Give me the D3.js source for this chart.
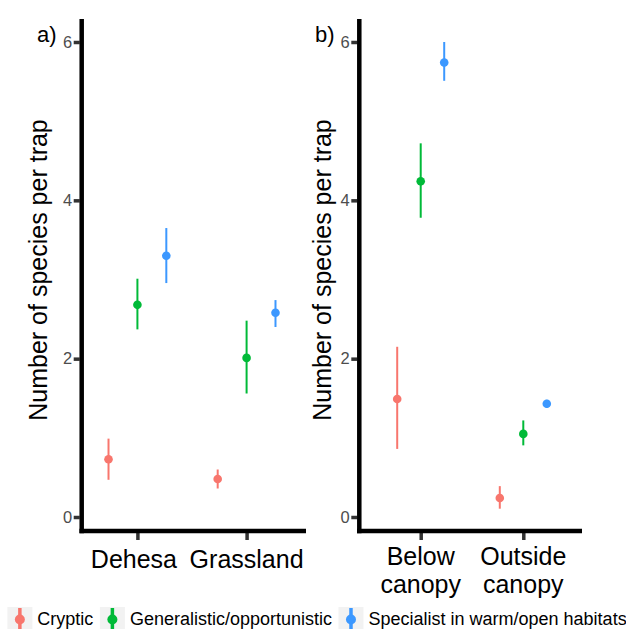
<!DOCTYPE html>
<html><head><meta charset="utf-8">
<script src="https://cdn.jsdelivr.net/npm/d3@7"></script>
<style>
html,body{margin:0;padding:0;background:#fff;}
svg{display:block;font-family:"Liberation Sans",Arial,sans-serif;}
</style></head>
<body><svg id="c" width="626" height="629"></svg>
<script>
// ---- data ----
const groups = ["Cryptic", "Generalistic/opportunistic", "Specialist in warm/open habitats"];
const colors = ["#F8766D", "#00BA38", "#3C98FF"];
const yTicks = [0, 2, 4, 6];

const categoriesA = ["Dehesa", "Grassland"];
const tickLabelsA = [["Dehesa "], ["Grassland"]];
const crypticA_mean = [0.73, 0.48], crypticA_low = [0.47, 0.36], crypticA_high = [0.99, 0.60];
const generalistA_mean = [2.68, 2.01], generalistA_low = [2.37, 1.56], generalistA_high = [3.01, 2.48];
const specialistA_mean = [3.30, 2.58], specialistA_low = [2.955, 2.40], specialistA_high = [3.65, 2.74];

const categoriesB = ["Below canopy", "Outside canopy"];
const tickLabelsB = [["Below", "canopy"], ["Outside", "canopy"]];
const crypticB_mean = [1.49, 0.24], crypticB_low = [0.86, 0.105], crypticB_high = [2.15, 0.39];
const generalistB_mean = [4.24, 1.05], generalistB_low = [3.78, 0.905], generalistB_high = [4.72, 1.22];
const specialistB_mean = [5.74, 1.43], specialistB_low = [5.51, 1.38], specialistB_high = [6.00, 1.48];

function buildRows(cats, means, lows, highs) {
  const rows = [];
  cats.forEach((c, i) => groups.forEach((g, j) => rows.push({cat: c, group: g, gi: j, mean: means[j][i], low: lows[j][i], high: highs[j][i]})));
  return rows;
}
const rowsA = buildRows(categoriesA, [crypticA_mean, generalistA_mean, specialistA_mean], [crypticA_low, generalistA_low, specialistA_low], [crypticA_high, generalistA_high, specialistA_high]);
const rowsB = buildRows(categoriesB, [crypticB_mean, generalistB_mean, specialistB_mean], [crypticB_low, generalistB_low, specialistB_low], [crypticB_high, generalistB_high, specialistB_high]);

const svg = d3.select("#c");
const color = d3.scaleOrdinal().domain(groups).range(colors);

function panel(opt) {
  const g = svg.append("g");
  const y = d3.scaleLinear().domain([0, 6]).range([517, 42]);
  const x = d3.scalePoint().domain(opt.cats).range(opt.xr).padding(opt.pad);
  const dodge = d3.scalePoint().domain(groups).range([-opt.dw, opt.dw]);
  const top = 19, bottom = 531;

  const ya = d3.axisLeft(y).tickValues(yTicks).tickSize(6).tickPadding(2).tickFormat(d3.format("d"));
  const yg = g.append("g").attr("transform", `translate(${opt.ax - 2},0)`).call(ya);
  yg.select(".domain").remove();
  yg.selectAll(".tick line").attr("stroke", "#333333").attr("stroke-width", 3.5);
  yg.selectAll(".tick text").attr("fill", "#4D4D4D").attr("font-size", "16.5px").attr("font-family", "Liberation Sans, Arial, sans-serif").attr("x", -7.5);

  const xa = d3.axisBottom(x).tickSize(9).tickFormat("");
  const xg = g.append("g").attr("transform", `translate(0,${bottom})`).call(xa);
  xg.select(".domain").remove();
  xg.selectAll(".tick line").attr("stroke", "#333333").attr("stroke-width", 3.5);

  g.append("line").attr("x1", opt.ax).attr("x2", opt.ax).attr("y1", top).attr("y2", bottom + 2.25).attr("stroke", "#000").attr("stroke-width", 4.5);
  g.append("line").attr("x1", opt.ax - 2.25).attr("x2", opt.xend).attr("y1", bottom).attr("y2", bottom).attr("stroke", "#000").attr("stroke-width", 4.5);

  opt.cats.forEach((c, i) => {
    const t = g.append("text").attr("x", x(c)).attr("text-anchor", "middle").attr("font-size", "25px").attr("fill", "#000").style("white-space", "pre");
    opt.labels[i].forEach((line, k) => t.append("tspan").attr("x", x(c)).attr("y", opt.lblY + k * 28.3).text(line));
  });

  g.append("text").attr("transform", `translate(${opt.titleX},270) rotate(-90)`).attr("text-anchor", "middle").attr("font-size", "25px").attr("fill", "#000").text("Number of species per trap");

  g.append("text").attr("x", opt.tagX).attr("y", 42).attr("font-size", "22px").attr("fill", "#000").text(opt.tag);

  const m = g.append("g").selectAll("g").data(opt.rows).join("g");
  m.append("line")
    .attr("x1", d => x(d.cat) + dodge(d.group)).attr("x2", d => x(d.cat) + dodge(d.group))
    .attr("y1", d => y(d.low)).attr("y2", d => y(d.high))
    .attr("stroke", d => color(d.group)).attr("stroke-width", 2);
  m.append("circle")
    .attr("cx", d => x(d.cat) + dodge(d.group)).attr("cy", d => y(d.mean))
    .attr("r", 4.3).attr("fill", d => color(d.group));
}

panel({cats: categoriesA, labels: tickLabelsA, rows: rowsA, xr: [79, 305], pad: 0.535, dw: 28.9, ax: 81.7, xend: 306, lblY: 568, titleX: 47, tagX: 37, tag: "a)"});
panel({cats: categoriesB, labels: tickLabelsB, rows: rowsB, xr: [361, 583], pad: 0.582, dw: 23.5, ax: 359.3, xend: 582, lblY: 565, titleX: 330.5, tagX: 315, tag: "b)"});

const leg = svg.append("g");
let lx = 0;
groups.forEach((gname, i) => {
  const it = leg.append("g").attr("transform", `translate(${lx},0)`);
  it.append("rect").attr("x", 0).attr("y", 607).attr("width", 25).attr("height", 23).attr("fill", "#F2F2F2");
  it.append("line").attr("x1", 12.5).attr("x2", 12.5).attr("y1", 608).attr("y2", 629).attr("stroke", color(gname)).attr("stroke-width", 3.5);
  it.append("circle").attr("cx", 12.5).attr("cy", 619.5).attr("r", 5).attr("fill", color(gname));
  const t = it.append("text").attr("x", 30).attr("y", 625).attr("font-size", "18px").attr("fill", "#000").text(gname);
  const w = t.node().getComputedTextLength();
  lx += 30 + w + 6.5;
});
const totalW = lx - 6.5;
leg.attr("transform", `translate(${317 - totalW / 2},0)`);
</script>
</body></html>
